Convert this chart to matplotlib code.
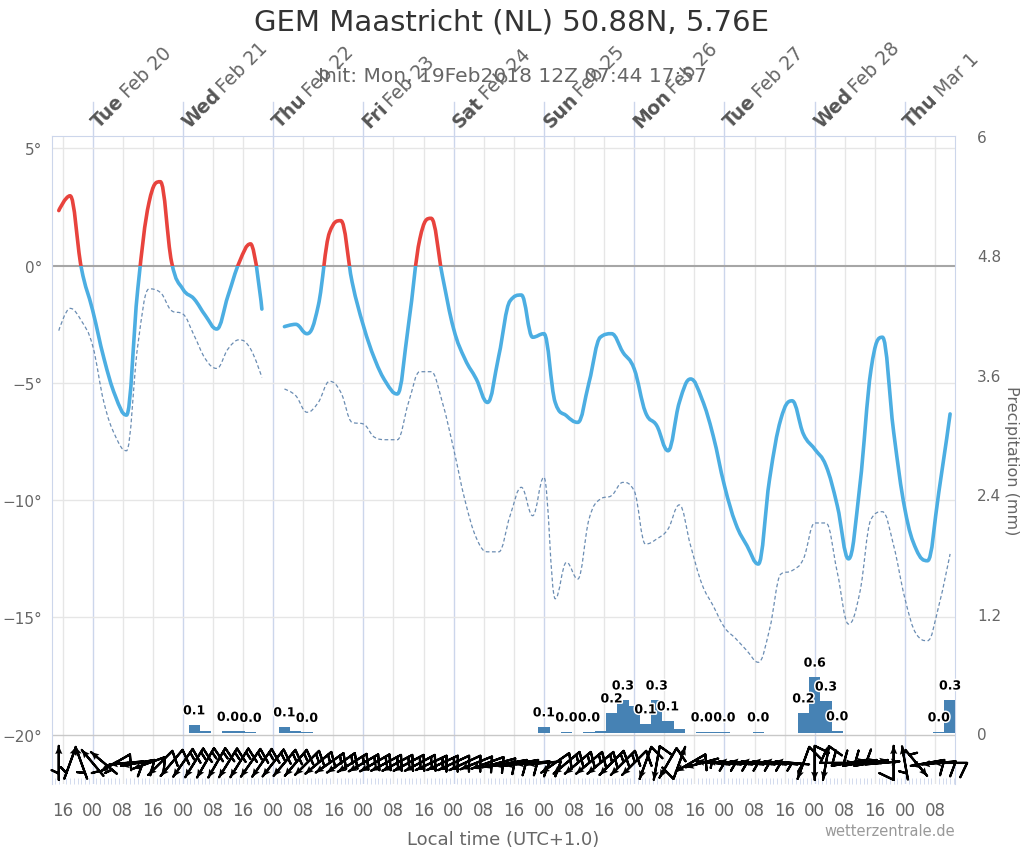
import numpy as np
import matplotlib
matplotlib.use('Agg')
import matplotlib.pyplot as plt
import matplotlib.transforms as mtransforms
from matplotlib import patheffects
from matplotlib.path import Path
from matplotlib.patches import PathPatch
from matplotlib.textpath import TextPath
from matplotlib.font_manager import FontProperties

# hours after Tue Feb 20 00:00 local time (UTC+1), 3-hourly
hours = np.arange(-9, 229, 3)

# 2 m temperature (deg C), None = missing
temp = [2.35, 2.98, -0.1,
        -1.9, -3.95, -5.54, -6.37, -1.0, 2.7, 3.58, 0.15,
        -1.0, -1.42, -2.13, -2.7, -1.28, 0.15, 0.93, -1.85,
        None, -2.6, -2.5, -2.9, -1.7, 1.42, 1.92, -0.7,
        -2.56, -3.98, -4.97, -5.47, -2.5, 1.14, 2.02, -0.43,
        -2.7, -3.98, -4.83, -5.83, -3.84, -1.5, -1.25, -3.05,
        -2.9, -5.83, -6.4, -6.68, -4.97, -3.05, -2.9, -3.69,
        -4.4, -6.25, -6.82, -7.89, -5.83, -4.83, -5.68, -7.25,
        -9.38, -11.0, -11.94, -12.72, -9.1, -6.54, -5.76, -7.18,
        -7.82, -8.53, -10.23, -12.5, -9.38, -4.4, -3.05, -7.1,
        -10.4, -12.1, -12.58, -9.66, -6.32]

# dew point (deg C)
dewp = [-2.77, -1.82, -2.35,
        -3.41, -5.83, -7.25, -7.89, -3.41, -0.99, -1.14, -1.92,
        -2.06, -2.98, -3.98, -4.38, -3.55, -3.16, -3.55, -4.76,
        None, -5.26, -5.54, -6.25, -5.83, -4.93, -5.4, -6.68,
        -6.75, -7.32, -7.42, -7.42, -5.83, -4.52, -4.52, -5.83,
        -7.82, -10.0, -11.6, -12.2, -12.2, -10.66, -9.45, -10.66,
        -9.02, -14.2, -12.65, -13.36, -10.8, -9.95, -9.8, -9.24,
        -9.6, -11.87, -11.65, -11.23, -10.2, -11.94, -13.57, -14.5,
        -15.42, -15.9, -16.42, -16.91, -15.5, -13.15, -13.0, -12.5,
        -10.97, -10.97, -13.07, -15.28, -13.93, -10.8, -10.49, -11.94,
        -14.2, -15.7, -15.99, -14.5, -12.29]

# precipitation per 3 h (mm)
prec_hours = [27, 30, 36, 39, 42, 51, 54, 57, 120, 126, 132, 135, 138, 141, 144,
              147, 150, 153, 156, 162, 165, 168, 177, 189, 192, 195, 198, 225, 228]
prec = [0.08, 0.02, 0.015, 0.015, 0.005, 0.06, 0.015, 0.005, 0.06, 0.01, 0.01,
        0.02, 0.2, 0.33, 0.27, 0.09, 0.33, 0.12, 0.04, 0.01, 0.01, 0.01, 0.01,
        0.2, 0.56, 0.32, 0.02, 0.01, 0.33]

# wind (direction wind comes from in degrees, speed in knots)
wind_dir = [180, 200, 160,
            140, 130, 60, 85, 80, 70, 45, 40,
            35, 32, 30, 30, 32, 32, 35, 35,
            38, 40, 40, 45, 50, 55, 55, 58,
            60, 60, 62, 62, 62, 62, 65, 65,
            65, 65, 68, 70, 75, 80, 80, 85,
            85, 55, 50, 50, 50, 50, 45, 45,
            45, 20, 10, 30, 200, 60, 75, 95,
            95, 95, 95, 95, 95, 95, 95, 20,
            0, 10, 270, 260, 260, 260, 265, 180,
            170, 320, 80, 85, 90]
wind_spd = [5, 5, 5,
            5, 6, 8, 10, 10, 10, 12, 12,
            15, 15, 15, 15, 15, 15, 15, 15,
            15, 15, 15, 15, 15, 15, 15, 15,
            15, 15, 15, 15, 15, 15, 15, 15,
            12, 12, 12, 12, 10, 10, 10, 8,
            8, 12, 15, 15, 15, 15, 15, 15,
            12, 10, 10, 10, 8, 8, 7, 5,
            5, 5, 5, 5, 5, 5, 5, 10,
            10, 8, 8, 10, 10, 10, 10, 8,
            6, 6, 8, 10, 10]

day_names = ['Tue', 'Wed', 'Thu', 'Fri', 'Sat', 'Sun', 'Mon', 'Tue', 'Wed', 'Thu']
day_dates = ['Feb 20', 'Feb 21', 'Feb 22', 'Feb 23', 'Feb 24', 'Feb 25',
             'Feb 26', 'Feb 27', 'Feb 28', 'Mar 1']

plt.rcParams['font.family'] = ['DejaVu Sans']
grey = '#666666'
frame = '#ccd6eb'


def spline_path(xs, ys, smoothing=1.5):
    # bezier path through the points, same control-point rule as a Highcharts spline
    verts, codes = [], []
    ys = np.asarray(ys, dtype=float)
    ok = ~np.isnan(ys)
    idx = np.where(ok)[0]
    runs = np.split(idx, np.where(np.diff(idx) > 1)[0] + 1)
    denom = smoothing + 1
    for run in runs:
        x = np.asarray(xs, dtype=float)[run]
        y = ys[run]
        n = len(x)
        lc = [None] * n
        rc = [None] * n
        for i in range(1, n - 1):
            lx = (smoothing * x[i] + x[i - 1]) / denom
            ly = (smoothing * y[i] + y[i - 1]) / denom
            rx = (smoothing * x[i] + x[i + 1]) / denom
            ry = (smoothing * y[i] + y[i + 1]) / denom
            corr = (ry - ly) * (rx - x[i]) / (rx - lx) + y[i] - ry
            ly += corr
            ry += corr
            if ly > y[i - 1] and ly > y[i]:
                ly = max(y[i - 1], y[i]); ry = 2 * y[i] - ly
            elif ly < y[i - 1] and ly < y[i]:
                ly = min(y[i - 1], y[i]); ry = 2 * y[i] - ly
            if ry > y[i + 1] and ry > y[i]:
                ry = max(y[i + 1], y[i]); ly = 2 * y[i] - ry
            elif ry < y[i + 1] and ry < y[i]:
                ry = min(y[i + 1], y[i]); ly = 2 * y[i] - ry
            lc[i] = (lx, ly)
            rc[i] = (rx, ry)
        verts.append((x[0], y[0]))
        codes.append(Path.MOVETO)
        for i in range(1, n):
            verts += [rc[i - 1] or (x[i - 1], y[i - 1]), lc[i] or (x[i], y[i]),
                      (x[i], y[i])]
            codes += [Path.CURVE4] * 3
    return Path(verts, codes)


fig = plt.figure(figsize=(10.24, 8.53), dpi=100)
fig.subplots_adjust(left=0.0508, right=0.9326, bottom=0.0797, top=0.8394)
ax = fig.add_subplot(111)
ax.set_xlim(-10.8, 229.3)
ax.set_ylim(-22.1, 5.53)

# grid
for h in range(-8, 229, 8):
    ax.axvline(h, color=frame if h % 24 == 0 else '#e6e6e6', lw=1, zorder=0)
for v in [5, -5, -10, -15]:
    ax.axhline(v, color='#e6e6e6', lw=1, zorder=0)
ax.axhline(-20, color='#c8c8c8', lw=1, zorder=0)
ax.axhline(0, color='#a6a6a6', lw=1.5, zorder=1)

# temperature (red above zero) and dew point
t_arr = np.array([np.nan if x is None else x for x in temp])
d_arr = np.array([np.nan if x is None else x for x in dewp])
ax.add_patch(PathPatch(spline_path(hours, d_arr), fill=False, edgecolor='#6b8db3',
                       lw=0.9, ls=(0, (3, 2)), zorder=2))
t_path = spline_path(hours, t_arr)
blue = ax.add_patch(PathPatch(t_path, fill=False, edgecolor='#4caee2', lw=2.6,
                              capstyle='round', joinstyle='round', zorder=3))
red = ax.add_patch(PathPatch(t_path, fill=False, edgecolor='#e8433d', lw=2.6,
                             capstyle='round', joinstyle='round', zorder=3))
clip_lo = plt.Rectangle((-20, -40), 300, 40, transform=ax.transData)
clip_hi = plt.Rectangle((-20, 0), 300, 40, transform=ax.transData)
blue.set_clip_path(clip_lo)
red.set_clip_path(clip_hi)

# wind barbs with arrow heads
wd = np.radians(wind_dir)
spd = np.array(wind_spd, dtype=float)
u = -spd * np.sin(wd)
v = -spd * np.cos(wd)
yb = np.full(len(hours), -21.2)
ax.barbs(hours, yb, u, v, length=7.0, pivot='middle', color='black',
         linewidth=1.6, zorder=4, clip_on=False,
         sizes=dict(height=0.42, width=-0.4))
ax.quiver(hours, yb, u / spd * 34, v / spd * 34, pivot='middle', units='dots',
          scale_units='dots', scale=1, width=1.8, headwidth=4, headlength=4.5,
          headaxislength=4, color='black', zorder=4, clip_on=False)

# axes
ax.set_xticks(range(-8, 229, 8))
ax.set_xticklabels(['%02d' % ((h + 24) % 24) for h in range(-8, 229, 8)])
ax.set_xticks(np.arange(-10, 230, 1), minor=True)
ax.tick_params(axis='x', which='major', length=0, pad=12, labelsize=12,
               labelcolor=grey)
ax.tick_params(axis='x', which='minor', length=4, color=frame, direction='in')
ax.set_yticks([5, 0, -5, -10, -15, -20])
ax.set_yticklabels(['5°', '0°', '\u22125°', '\u221210°', '\u221215°', '\u221220°'])
ax.tick_params(axis='y', length=0, pad=7, labelsize=11, labelcolor=grey)
for s in ['left', 'top', 'right']:
    ax.spines[s].set_color(frame)
ax.spines['bottom'].set_visible(False)
ax.set_xlabel('Local time (UTC+1.0)', fontsize=13, color=grey, labelpad=8)

# precipitation on the right axis
ax2 = ax.twinx()
ax2.set_ylim(-0.513, 6.0)
ax2.bar(prec_hours, prec, width=3, color='#4682b4', linewidth=0, zorder=2)
ax2.set_yticks([0, 1.2, 2.4, 3.6, 4.8, 6])
ax2.set_yticklabels(['0', '1.2', '2.4', '3.6', '4.8', '6'])
ax2.tick_params(axis='y', length=0, pad=16, labelsize=11, labelcolor=grey)
for s in ax2.spines.values():
    s.set_visible(False)
ax2.set_ylabel('Precipitation (mm)', fontsize=11.5, color=grey, rotation=270,
               va='center')
ax2.yaxis.set_label_coords(1.063, 0.5)

# precipitation value labels, hiding overlapping ones
shown = []
lw_px, lh_px = 20, 11
for h, p in zip(prec_hours, prec):
    xp, yp = ax2.transData.transform((h, p))
    box = (xp - lw_px / 2, yp + 8, xp + lw_px / 2, yp + 8 + lh_px)
    clash = any(box[0] < b[2] and b[0] < box[2] and box[1] < b[3] and b[1] < box[3]
                for b in shown)
    if clash:
        continue
    shown.append(box)
    ax2.annotate('%.1f' % p, (h, p), xytext=(0, 5.5), textcoords='offset points',
                 ha='center', va='bottom', fontsize=9, fontweight='bold',
                 color='black', zorder=5,
                 path_effects=[patheffects.withStroke(linewidth=2.2, foreground='white')])

# top day labels with tick marks
trans_top = mtransforms.blended_transform_factory(ax.transData, ax.transAxes)
fs_day = 13.5
bold_fp = FontProperties(family='DejaVu Sans', weight='bold', size=fs_day)
for i, (dn, dd) in enumerate(zip(day_names, day_dates)):
    h = 24 * i
    ax.plot([h, h], [1, 1 + 34 / 648], color=frame, lw=1, transform=trans_top,
            clip_on=False)
    x0, y0 = 4.5, 6
    base = mtransforms.offset_copy(trans_top, fig=fig, x=x0, y=y0, units='points')
    ax.text(h, 1, dn, transform=base, rotation=45, rotation_mode='anchor',
            ha='left', va='baseline', fontsize=fs_day, fontweight='bold',
            color='#555555')
    w = TextPath((0, 0), dn, prop=bold_fp).get_extents().width + 0.3 * fs_day
    off = mtransforms.offset_copy(trans_top, fig=fig, x=x0 + w * 0.7071,
                                  y=y0 + w * 0.7071, units='points')
    ax.text(h, 1, dd, transform=off, rotation=45, rotation_mode='anchor',
            ha='left', va='baseline', fontsize=fs_day, color=grey)

fig.text(0.5, 0.974, 'GEM Maastricht (NL) 50.88N, 5.76E', ha='center', va='center',
         fontsize=21, color='#333333')
fig.text(0.5, 0.910, 'Init: Mon, 19Feb2018 12Z 07:44 17:57', ha='center',
         va='center', fontsize=14.5, color=grey)
fig.text(0.9326, 0.016, 'wetterzentrale.de', ha='right', va='bottom',
         fontsize=10.5, color='#999999')

fig.savefig('out.png', dpi=100)
